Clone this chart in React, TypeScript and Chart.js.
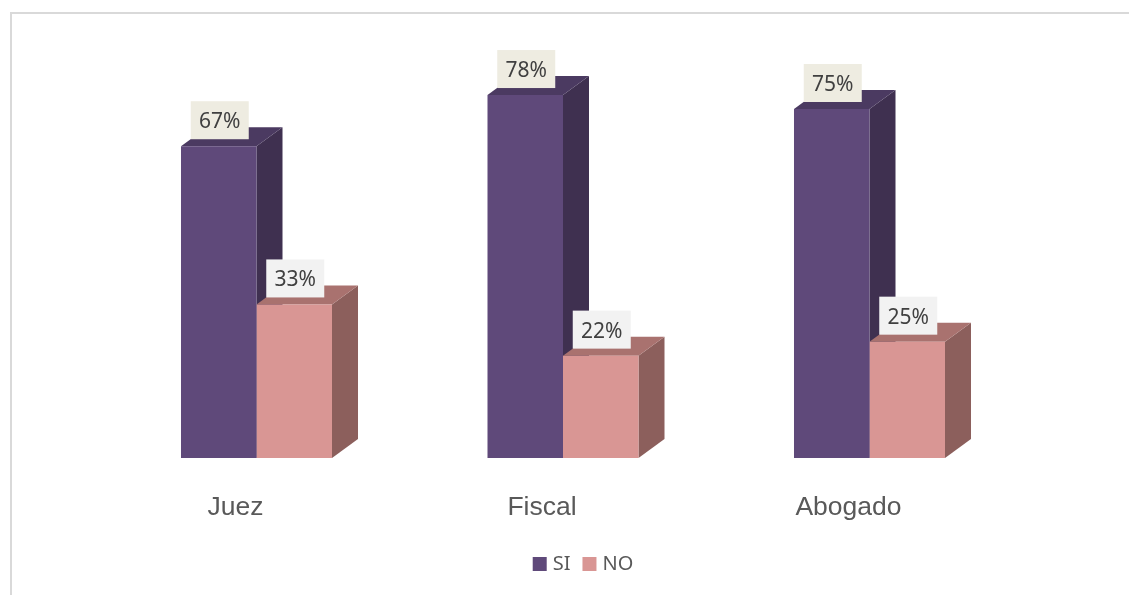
import React, { useEffect, useRef } from "react";
import { Chart, registerables } from "chart.js";

Chart.register(...registerables);

const categories = ["Juez", "Fiscal", "Abogado"];
const seriesNames = ["SI", "NO"];
const siValues = [67, 78, 75];
const noValues = [33, 22, 25];

const frontColors = ["#5F497A", "#D99694"];
const topColors = ["#4B3A61", "#A9726F"];
const sideColors = ["#3F3050", "#8C5F5C"];
const labelFills = ["#EEECE1", "#F2F2F2"];

const DEPTH_X = 26;
const DEPTH_Y = 19;

// Page frame: only the top and left rules sit inside the canvas.
const framePlugin = {
  id: "frame",
  beforeDraw(chart: any) {
    const { ctx, width, height } = chart;
    ctx.save();
    ctx.fillStyle = "#D9D9D9";
    ctx.fillRect(10, 12, width - 10, 2);
    ctx.fillRect(10, 12, 2, height - 12);
    ctx.restore();
  },
};

function face(ctx: CanvasRenderingContext2D, pts: number[][], color: string) {
  ctx.fillStyle = color;
  ctx.beginPath();
  pts.forEach(([x, y], i) => (i ? ctx.lineTo(x, y) : ctx.moveTo(x, y)));
  ctx.closePath();
  ctx.fill();
}

// Extruded top and right faces behind each column, giving the 3D look.
const depthPlugin = {
  id: "depth",
  beforeDatasetsDraw(chart: any) {
    const { ctx } = chart;
    ctx.save();
    categories.forEach((_, i) => {
      seriesNames.forEach((_n, d) => {
        const bar = chart.getDatasetMeta(d).data[i];
        const half = bar.width / 2;
        const l = bar.x - half;
        const r = bar.x + half;
        const t = bar.y;
        const b = bar.base;
        face(ctx, [[r, t], [r + DEPTH_X, t - DEPTH_Y], [r + DEPTH_X, b - DEPTH_Y], [r, b]], sideColors[d]);
        face(ctx, [[l, t], [l + DEPTH_X, t - DEPTH_Y], [r + DEPTH_X, t - DEPTH_Y], [r, t]], topColors[d]);
      });
    });
    ctx.restore();
  },
};

// Percentage tags on filled boxes above each column.
const valueTagPlugin = {
  id: "valueTags",
  afterDatasetsDraw(chart: any) {
    const { ctx } = chart;
    ctx.save();
    ctx.font = '21px "Noto Sans"';
    ctx.textAlign = "center";
    ctx.textBaseline = "middle";
    seriesNames.forEach((_n, d) => {
      chart.getDatasetMeta(d).data.forEach((bar: any, i: number) => {
        const cx = bar.x + 1;
        const cy = bar.y - 26;
        ctx.fillStyle = labelFills[d];
        ctx.fillRect(cx - 29, cy - 19, 58, 38);
        ctx.fillStyle = "#404040";
        ctx.fillText(`${chart.data.datasets[d].data[i]}%`, cx, cy + 2);
      });
    });
    ctx.restore();
  },
};

const fixedWidth = (w: number) => (scale: any) => {
  scale.width = w;
};

export default function App() {
  const ref = useRef<HTMLCanvasElement>(null);

  useEffect(() => {
    const chart = new Chart(ref.current!, {
      type: "bar",
      data: {
        labels: categories,
        datasets: [
          { label: seriesNames[0], data: siValues, backgroundColor: frontColors[0], borderWidth: 0 },
          { label: seriesNames[1], data: noValues, backgroundColor: frontColors[1], borderWidth: 0 },
        ],
      },
      options: {
        responsive: false,
        animation: false,
        devicePixelRatio: 1,
        layout: { padding: { left: 41, right: 0, top: 39.2, bottom: 11 } },
        datasets: { bar: { categoryPercentage: 0.4927, barPercentage: 1 } },
        scales: {
          x: {
            grid: { display: false, drawTicks: false },
            border: { display: false },
            afterFit: (scale: any) => {
              scale.height = 80;
            },
            ticks: {
              color: "#595959",
              font: { family: '"Liberation Sans"', size: 26.5 },
              padding: 34,
              labelOffset: -21,
              maxRotation: 0,
            },
          },
          y: {
            min: 0,
            max: 90,
            grid: { display: false },
            border: { display: false },
            ticks: { display: false },
            afterFit: fixedWidth(62.25),
          },
          rightGutter: {
            axis: "y",
            position: "right",
            min: 0,
            max: 1,
            grid: { display: false },
            border: { display: false },
            ticks: { display: false },
            afterFit: fixedWidth(106.25),
          },
        },
        plugins: {
          tooltip: { enabled: false },
          legend: {
            position: "bottom",
            labels: {
              usePointStyle: true,
              pointStyle: "rect",
              boxWidth: 6,
              boxHeight: 14,
              padding: 16,
              color: "#595959",
              font: { family: '"Noto Sans"', size: 20 },
            },
          },
        },
      } as any,
      plugins: [framePlugin, depthPlugin, valueTagPlugin],
    });
    return () => chart.destroy();
  }, []);

  return (
    <div style={{ position: "fixed", left: 0, top: 0, width: 1129, height: 595, background: "#fff" }}>
      <canvas ref={ref} width={1129} height={595} style={{ display: "block" }} />
    </div>
  );
}
